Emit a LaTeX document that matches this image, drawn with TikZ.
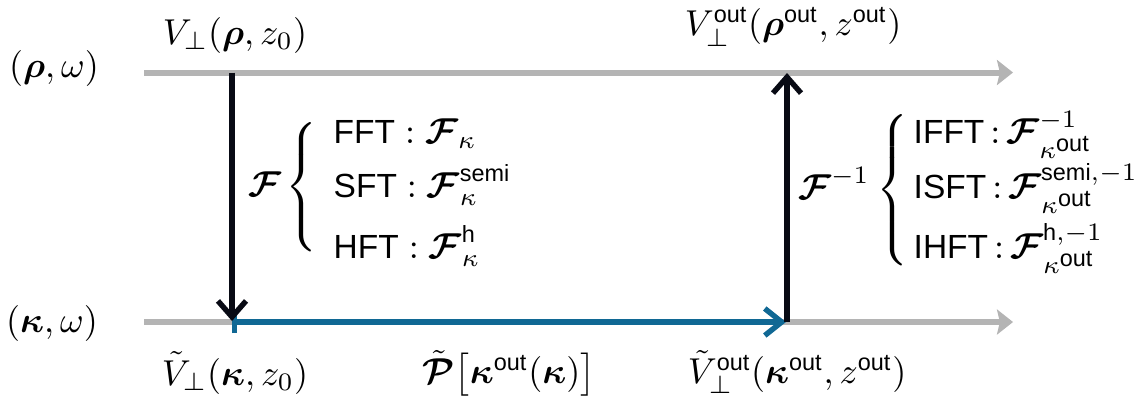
\documentclass[tikz,border=0pt]{standalone}
\usepackage{amsmath,amssymb,bm}
\usepackage{fontspec}
\setsansfont{Liberation Sans}[Scale=0.93]
\usetikzlibrary{arrows.meta}
\definecolor{axisgray}{RGB}{180,180,180}
\definecolor{propblue}{RGB}{16,104,148}
\definecolor{arrowblack}{RGB}{8,10,20}
\newcommand{\so}{\textsf{out}}
\newcommand{\ko}{\kappa^{\scriptstyle\textsf{out}}}
\newcommand{\bF}{\bm{\mathcal{F}}}
\begin{document}
\begin{tikzpicture}[x=0.2778pt,y=-0.2778pt,
  lbl/.style={inner sep=0pt},
  axisline/.style={draw=axisgray,line width=1.67pt,-{Stealth[length=4.45pt,width=6.95pt,inset=0.8pt]}},
  tfarrow/.style={draw=arrowblack,line width=1.5pt,-{Straight Barb[length=4.45pt,width=7.8pt]}},
  proparrow/.style={draw=propblue,line width=1.5pt,{Bar[width=6.1pt]}-{Straight Barb[length=4.7pt,width=7.5pt]}}]
\useasboundingbox (0,0) rectangle (1142,403);
% axes
\coordinate (tl) at (144,72.5);
\coordinate (tr) at (1013,72.5);
\coordinate (bl) at (144,322);
\coordinate (br) at (1013,322);
\coordinate (A) at (232,72.5);
\coordinate (B) at (232,321);
\coordinate (B0) at (232,322);
\coordinate (C) at (786,322);
\coordinate (C0) at (787,322);
\coordinate (D) at (787,73);
\draw[axisline] (tl) -- (tr);
\draw[axisline] (bl) -- (br);
\draw[proparrow] (B0) -- (C);
\draw[tfarrow] (A) -- (B);
\draw[tfarrow] (C0) -- (D);
% labels
\node[lbl] (rw) at (54,68) {$(\bm{\rho},\omega)$};
\node[lbl] (kw) at (52,323) {$(\bm{\kappa},\omega)$};
\node[lbl] (vin) at (235,35) {$V_{\perp}(\bm{\rho},z_0)$};
\node[lbl] (vout) at (793,27) {$V_{\perp}^{\so}\!\left(\bm{\rho}^{\so},z^{\so}\right)$};
\node[lbl] (vtin) at (235,373) {$\tilde{V}_{\perp}(\bm{\kappa},z_0)$};
\node[lbl] (prop) at (509,373) {$\tilde{\bm{\mathcal{P}}}\big[\bm{\kappa}^{\so}(\bm{\kappa})\big]$};
\node[lbl] (vtout) at (797,372) {$\tilde{V}_{\perp}^{\so}\!\left(\bm{\kappa}^{\so},z^{\so}\right)$};
% forward transforms
\node[lbl] (F) at (265,184) {$\bF$};
\node[lbl] (lbrace) at (304,188) {$\left\{\vrule height 16.1pt depth 16.1pt width 0pt\right.$};
\node[lbl,anchor=base west] (fft) at (333,143) {$\text{\sffamily FFT}:\bF_{\kappa}$};
\node[lbl,anchor=base west] (sft) at (333,197) {$\text{\sffamily SFT}:\bF_{\kappa}^{\textsf{semi}}$};
\node[lbl,anchor=base west] (hft) at (333,258) {$\text{\sffamily HFT}:\bF_{\kappa}^{\textsf{h}}$};
% inverse transforms
\node[lbl] (Fi) at (834,183) {$\bF^{-1}$};
\node[lbl] (rbrace) at (895,191) {$\left\{\vrule height 18.9pt depth 18.9pt width 0pt\right.$};
\node[lbl,anchor=base west] (ifft) at (913,143) {$\text{\sffamily IFFT}\,{:}\,\bF_{\ko}^{-1}$};
\node[lbl,anchor=base west] (isft) at (913,198) {$\text{\sffamily ISFT}\,{:}\,\bF_{\ko}^{\textsf{semi},-1}$};
\node[lbl,anchor=base west] (ihft) at (913,258) {$\text{\sffamily IHFT}\,{:}\,\bF_{\ko}^{\textsf{h},-1}$};
\end{tikzpicture}
\end{document}
